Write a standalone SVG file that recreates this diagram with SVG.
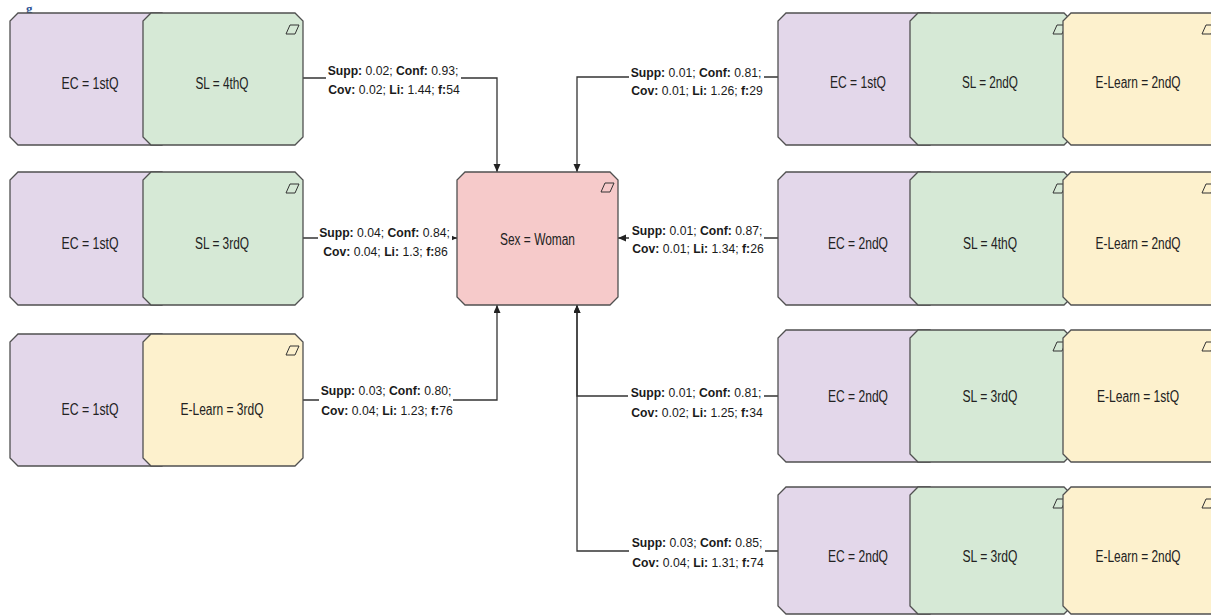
<svg xmlns="http://www.w3.org/2000/svg" width="1211" height="616" viewBox="0 0 1211 616">
<style>
.pu{fill:#e3d7ea;stroke:#505050;stroke-width:1.3}
.gr{fill:#d6e9d6;stroke:#505050;stroke-width:1.3}
.ye{fill:#fdf1cd;stroke:#505050;stroke-width:1.3}
.rd{fill:#f6caca;stroke:#505050;stroke-width:1.3}
.ic{fill:none;stroke:#333;stroke-width:1}
.nt{font-family:"Liberation Sans",Arial,sans-serif;font-size:16px;fill:#222;text-anchor:middle}
.lb{font-family:"Liberation Sans",Arial,sans-serif;font-size:12.2px;fill:#1a1a1a;text-anchor:middle}
.b{font-weight:bold}
.ed{fill:none;stroke:#333;stroke-width:1.3}
.bg{fill:#fff}
</style>
<defs>
<marker id="ar" markerUnits="userSpaceOnUse" markerWidth="9" markerHeight="8" refX="8" refY="3.5" orient="auto">
<path d="M0,0 L8,3.5 L0,7 Z" fill="#222"/>
</marker>
</defs>
<rect width="1211" height="616" fill="#fff"/>
<text x="26" y="13" font-family="Liberation Serif,serif" font-weight="bold" font-size="13" fill="#2f5496">g</text>

<g id="connectors">
<path class="ed" d="M303,78 H497 V172" marker-end="url(#ar)"/>
<path class="ed" d="M303,238 H457" marker-end="url(#ar)"/>
<path class="ed" d="M303,400 H497 V305" marker-end="url(#ar)"/>
<path class="ed" d="M778,77 H577 V172" marker-end="url(#ar)"/>
<path class="ed" d="M778,238 H618" marker-end="url(#ar)"/>
<path class="ed" d="M778,396 H577 V305" marker-end="url(#ar)"/>
<path class="ed" d="M778,551 H577 V305" marker-end="url(#ar)"/>
<g id="labels">
<rect class="bg" x="326" y="62" width="135" height="37"/>
<text class="lb" x="393" y="75"><tspan class="b">Supp:</tspan> 0.02; <tspan class="b">Conf:</tspan> 0.93;</text>
<text class="lb" x="394" y="94"><tspan class="b">Cov:</tspan> 0.02; <tspan class="b">Li:</tspan> 1.44; <tspan class="b">f:</tspan>54</text>
<rect class="bg" x="318" y="222" width="134" height="38"/>
<text class="lb" x="384.5" y="237"><tspan class="b">Supp:</tspan> 0.04; <tspan class="b">Conf:</tspan> 0.84;</text>
<text class="lb" x="385.5" y="256"><tspan class="b">Cov:</tspan> 0.04; <tspan class="b">Li:</tspan> 1.3; <tspan class="b">f:</tspan>86</text>
<rect class="bg" x="319" y="381" width="134" height="38"/>
<text class="lb" x="386" y="395"><tspan class="b">Supp:</tspan> 0.03; <tspan class="b">Conf:</tspan> 0.80;</text>
<text class="lb" x="387" y="415"><tspan class="b">Cov:</tspan> 0.04; <tspan class="b">Li:</tspan> 1.23; <tspan class="b">f:</tspan>76</text>
<rect class="bg" x="629" y="62" width="135" height="37"/>
<text class="lb" x="696" y="77"><tspan class="b">Supp:</tspan> 0.01; <tspan class="b">Conf:</tspan> 0.81;</text>
<text class="lb" x="697" y="95"><tspan class="b">Cov:</tspan> 0.01; <tspan class="b">Li:</tspan> 1.26; <tspan class="b">f:</tspan>29</text>
<rect class="bg" x="629" y="221" width="135" height="36"/>
<text class="lb" x="697" y="235"><tspan class="b">Supp:</tspan> 0.01; <tspan class="b">Conf:</tspan> 0.87;</text>
<text class="lb" x="698" y="253"><tspan class="b">Cov:</tspan> 0.01; <tspan class="b">Li:</tspan> 1.34; <tspan class="b">f:</tspan>26</text>
<rect class="bg" x="628" y="383" width="136" height="37"/>
<text class="lb" x="696" y="397"><tspan class="b">Supp:</tspan> 0.01; <tspan class="b">Conf:</tspan> 0.81;</text>
<text class="lb" x="697" y="417"><tspan class="b">Cov:</tspan> 0.02; <tspan class="b">Li:</tspan> 1.25; <tspan class="b">f:</tspan>34</text>
<rect class="bg" x="629" y="533" width="136" height="38"/>
<text class="lb" x="697" y="547"><tspan class="b">Supp:</tspan> 0.03; <tspan class="b">Conf:</tspan> 0.85;</text>
<text class="lb" x="698" y="567"><tspan class="b">Cov:</tspan> 0.04; <tspan class="b">Li:</tspan> 1.31; <tspan class="b">f:</tspan>74</text>
</g>
</g>

<g id="l1-ec"><path class="pu" d="M18,13 H162 L170,21 V137 L162,145 H18 L10,137 V21 Z"/><text class="nt" x="90" y="89" textLength="57" lengthAdjust="spacingAndGlyphs">EC = 1stQ</text></g>
<g id="l1-sl"><path class="gr" d="M151,13 H295 L303,21 V137 L295,145 H151 L143,137 V21 Z"/><path class="ic" d="M290,25 H299 L295,34 H286 Z"/><text class="nt" x="222" y="89" textLength="53" lengthAdjust="spacingAndGlyphs">SL = 4thQ</text></g>

<g id="l2-ec"><path class="pu" d="M18,172 H162 L170,180 V297 L162,305 H18 L10,297 V180 Z"/><text class="nt" x="90" y="249" textLength="57" lengthAdjust="spacingAndGlyphs">EC = 1stQ</text></g>
<g id="l2-sl"><path class="gr" d="M151,172 H295 L303,180 V297 L295,305 H151 L143,297 V180 Z"/><path class="ic" d="M290,184 H299 L295,193 H286 Z"/><text class="nt" x="222" y="249" textLength="54" lengthAdjust="spacingAndGlyphs">SL = 3rdQ</text></g>

<g id="l3-ec"><path class="pu" d="M18,334 H162 L170,342 V458 L162,466 H18 L10,458 V342 Z"/><text class="nt" x="90" y="415" textLength="57" lengthAdjust="spacingAndGlyphs">EC = 1stQ</text></g>
<g id="l3-el"><path class="ye" d="M151,334 H295 L303,342 V458 L295,466 H151 L143,458 V342 Z"/><path class="ic" d="M290,346 H299 L295,355 H286 Z"/><text class="nt" x="222" y="415" textLength="83" lengthAdjust="spacingAndGlyphs">E-Learn = 3rdQ</text></g>

<g id="center"><path class="rd" d="M465,172 H610 L618,180 V297 L610,305 H465 L457,297 V180 Z"/><path class="ic" d="M605,183 H614 L610,192 H601 Z"/><text class="nt" x="537.5" y="245" textLength="75" lengthAdjust="spacingAndGlyphs">Sex = Woman</text></g>

<g id="r1-ec"><path class="pu" d="M786,13 H930 L938,21 V137 L930,145 H786 L778,137 V21 Z"/><text class="nt" x="858" y="88" textLength="56" lengthAdjust="spacingAndGlyphs">EC = 1stQ</text></g>
<g id="r1-sl"><path class="gr" d="M918,13 H1064 L1072,21 V137 L1064,145 H918 L910,137 V21 Z"/><path class="ic" d="M1057,25 H1066 L1062,34 H1053 Z"/><text class="nt" x="990" y="88" textLength="56" lengthAdjust="spacingAndGlyphs">SL = 2ndQ</text></g>
<g id="r1-el"><path class="ye" d="M1071,13 H1215 L1223,21 V137 L1215,145 H1071 L1063,137 V21 Z"/><path class="ic" d="M1206,25 H1215 L1211,34 H1202 Z"/><text class="nt" x="1138" y="88" textLength="85" lengthAdjust="spacingAndGlyphs">E-Learn = 2ndQ</text></g>

<g id="r2-ec"><path class="pu" d="M786,172 H930 L938,180 V297 L930,305 H786 L778,297 V180 Z"/><text class="nt" x="858" y="249" textLength="60" lengthAdjust="spacingAndGlyphs">EC = 2ndQ</text></g>
<g id="r2-sl"><path class="gr" d="M918,172 H1064 L1072,180 V297 L1064,305 H918 L910,297 V180 Z"/><path class="ic" d="M1057,184 H1066 L1062,193 H1053 Z"/><text class="nt" x="990" y="249" textLength="54" lengthAdjust="spacingAndGlyphs">SL = 4thQ</text></g>
<g id="r2-el"><path class="ye" d="M1071,172 H1215 L1223,180 V297 L1215,305 H1071 L1063,297 V180 Z"/><path class="ic" d="M1206,184 H1215 L1211,193 H1202 Z"/><text class="nt" x="1138" y="249" textLength="85" lengthAdjust="spacingAndGlyphs">E-Learn = 2ndQ</text></g>

<g id="r3-ec"><path class="pu" d="M786,330 H930 L938,338 V454 L930,462 H786 L778,454 V338 Z"/><text class="nt" x="858" y="402" textLength="60" lengthAdjust="spacingAndGlyphs">EC = 2ndQ</text></g>
<g id="r3-sl"><path class="gr" d="M918,330 H1064 L1072,338 V454 L1064,462 H918 L910,454 V338 Z"/><path class="ic" d="M1057,342 H1066 L1062,351 H1053 Z"/><text class="nt" x="990" y="402" textLength="55" lengthAdjust="spacingAndGlyphs">SL = 3rdQ</text></g>
<g id="r3-el"><path class="ye" d="M1071,330 H1215 L1223,338 V454 L1215,462 H1071 L1063,454 V338 Z"/><path class="ic" d="M1206,342 H1215 L1211,351 H1202 Z"/><text class="nt" x="1138" y="402" textLength="82" lengthAdjust="spacingAndGlyphs">E-Learn = 1stQ</text></g>

<g id="r4-ec"><path class="pu" d="M786,487 H930 L938,495 V606 L930,614 H786 L778,606 V495 Z"/><text class="nt" x="858" y="562" textLength="60" lengthAdjust="spacingAndGlyphs">EC = 2ndQ</text></g>
<g id="r4-sl"><path class="gr" d="M918,487 H1064 L1072,495 V606 L1064,614 H918 L910,606 V495 Z"/><path class="ic" d="M1057,499 H1066 L1062,508 H1053 Z"/><text class="nt" x="990" y="562" textLength="55" lengthAdjust="spacingAndGlyphs">SL = 3rdQ</text></g>
<g id="r4-el"><path class="ye" d="M1071,487 H1215 L1223,495 V606 L1215,614 H1071 L1063,606 V495 Z"/><path class="ic" d="M1206,499 H1215 L1211,508 H1202 Z"/><text class="nt" x="1138" y="562" textLength="85" lengthAdjust="spacingAndGlyphs">E-Learn = 2ndQ</text></g>
</svg>
